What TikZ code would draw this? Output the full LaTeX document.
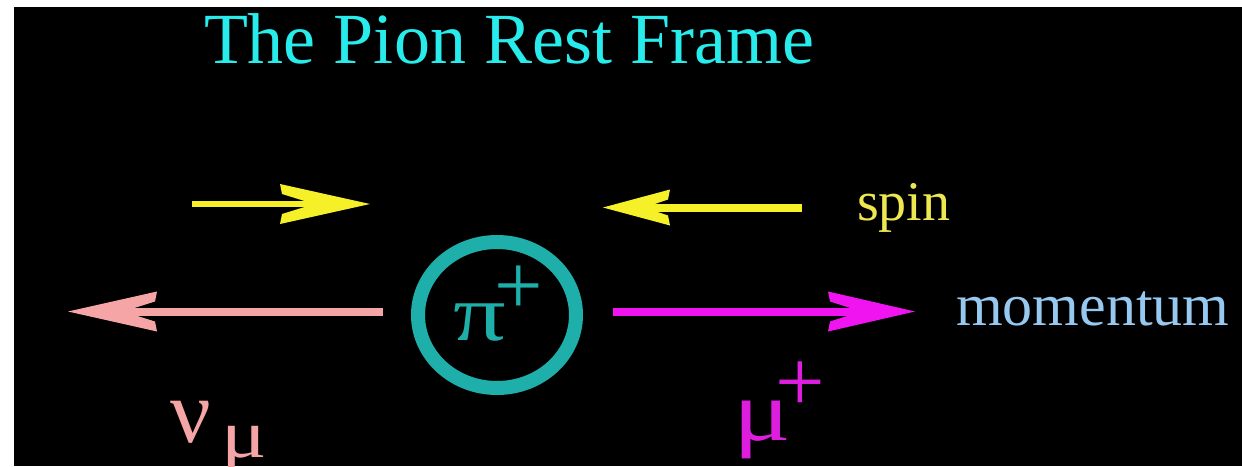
\documentclass[tikz,border=0pt]{standalone}
\usepackage{fontspec}
\setmainfont{Liberation Serif}
\usetikzlibrary{shapes.geometric,calc}
\definecolor{titlecyan}{RGB}{40,235,235}
\definecolor{yel}{RGB}{245,240,40}
\definecolor{spinyel}{RGB}{238,232,80}
\definecolor{pinkc}{RGB}{245,165,165}
\definecolor{magc}{RGB}{240,20,240}
\definecolor{magtext}{RGB}{222,30,222}
\definecolor{tealc}{RGB}{30,175,170}
\definecolor{momblue}{RGB}{150,200,240}
\tikzset{
  pics/ahead/.style 2 args={code={
    \fill (0,0) -- (-#1,-#2) -- ({-#1+2},{-#2+10}) -- ({-0.62*#1},0)
      -- ({-#1+2},{#2-10}) -- (-#1,#2) -- cycle;}},
  txt/.style={inner sep=0pt, outer sep=0pt, anchor=base west},
  ctr/.style={inner sep=0pt, outer sep=0pt, anchor=center},
  shaft/.style={line width=#1, line cap=butt}
}
\begin{document}
\begin{tikzpicture}[x=1pt,y=-1pt]
\useasboundingbox (0,0) rectangle (1242,466);
\fill[white] (0,0) rectangle (1242,466);
\fill[black] (14,7) rectangle (1242,466);

% title
\node[txt, text=titlecyan, font=\fontsize{72}{72}\selectfont] (title) at (204,63) {The Pion Rest Frame};

% pion circle
\node[draw=tealc, ellipse, line width=14pt, minimum width=158pt, minimum height=146pt, inner sep=0pt] (pion) at (497,315) {};
\node[txt, text=tealc, font=\fontsize{80}{80}\selectfont] (pilab) at (453,340) {\scalebox{1.3}[1]{π}};
\node[ctr, text=tealc, font=\fontsize{86}{86}\selectfont] (piplus) at (519,290) {+};

% spin arrows
\coordinate (s1a) at (192,204);
\coordinate (s1b) at (370,204);
\draw[yel, shaft=6.5pt] (s1a) -- ($(s1b)+(-50,0)$);
\pic[yel] at (s1b) {ahead={90}{20}};

\coordinate (s2a) at (802,207.5);
\coordinate (s2b) at (603,207.5);
\draw[yel, shaft=8pt] (s2a) -- ($(s2b)+(38,0)$);
\pic[yel, rotate=180] at (s2b) {ahead={67}{18}};

\node[txt, text=spinyel, font=\fontsize{56}{56}\selectfont] (spin) at (857,220) {spin};

% momentum arrows
\coordinate (m1a) at (383,311.5);
\coordinate (m1b) at (68,311.5);
\draw[pinkc, shaft=8pt] (m1a) -- ($(m1b)+(50,0)$);
\pic[pinkc, rotate=180] at (m1b) {ahead={89}{20}};

\coordinate (m2a) at (613,311.5);
\coordinate (m2b) at (915,311.5);
\draw[magc, shaft=8pt] (m2a) -- ($(m2b)+(-50,0)$);
\pic[magc] at (m2b) {ahead={87}{20}};

\node[txt, text=momblue, font=\fontsize{60}{60}\selectfont] (mom) at (956,325) {momentum};

% particle labels
\node[txt, text=pinkc, font=\fontsize{90}{90}\selectfont] (nu) at (170,442) {ν};
\node[txt, text=pinkc, font=\fontsize{68}{68}\selectfont] (nusub) at (221,457) {\scalebox{1.25}[1]{μ}};
\node[txt, text=magtext, font=\fontsize{86}{86}\selectfont] (mu) at (733,440) {\scalebox{1.25}[1]{μ}};
\node[ctr, text=magtext, font=\fontsize{88}{88}\selectfont] (muplus) at (800,387) {+};
\end{tikzpicture}
\end{document}
